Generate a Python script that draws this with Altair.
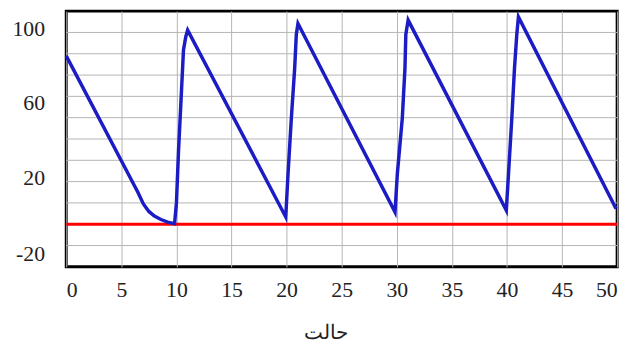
import altair as alt
import pandas as pd

# Blue series (state vs value)
xs = [0, 6.5, 7.0, 7.5, 8.0, 8.6, 9.2, 9.83,
      10.0, 10.19, 10.42, 10.64, 10.85, 11.02,
      19.92, 20.13, 20.43, 20.73, 20.88, 21.03,
      29.84, 30.05, 30.5, 30.74, 30.82, 31.03,
      39.94, 40.14, 40.44, 40.68, 40.89, 41.04,
      49.9]
ys = [79, 15, 9.5, 6.0, 3.8, 2.2, 1.0, 0.3,
      10, 34.4, 58.5, 81.8, 88, 91.1,
      3.4, 23.7, 49.8, 73, 89, 94.2,
      5.7, 23.7, 49.8, 73, 89, 95.8,
      6.5, 23.7, 49.8, 73, 89, 97.3,
      7.3]

red_level = [0]
y_grid = [-10, 0, 10, 20, 30, 40, 50, 60, 70, 80, 90]
x_ticks = [0, 5, 10, 15, 20, 25, 30, 35, 40, 45, 50]
y_tick_pos = [92, 57, 22, -14]
y_tick_labels = ["100", "60", "20", "-20"]

df = pd.DataFrame({"x": xs, "y": ys})
grid_df = pd.DataFrame({"g": y_grid})
red_df = pd.DataFrame({"v": red_level})

label_expr = "''"
for p, lab in zip(reversed(y_tick_pos), reversed(y_tick_labels)):
    label_expr = f"abs(datum.value - ({p})) < 0.5 ? '{lab}' : ({label_expr})"

FONT = "Liberation Serif"

xscale = alt.Scale(domain=[0, 50], nice=False, zero=False)
yscale = alt.Scale(domain=[-20, 100], nice=False, zero=False)

xaxis = alt.Axis(values=x_ticks, grid=True, gridColor="#b4b4b4", gridWidth=1,
                 ticks=False, domain=False, labelFont=FONT,
                 labelFontSize=22, labelColor="#222", labelPadding=13,
                 title="حالت", titleFont=FONT, titleFontSize=20,
                 titleFontWeight="normal", titleColor="#222",
                 titleX=263, titleY=67, titleBaseline="middle", titleAlign="center")
yaxis = alt.Axis(values=y_tick_pos, labelExpr=label_expr, grid=False, ticks=False,
                 domain=False, labelFont=FONT, labelFontSize=22,
                 labelColor="#222", labelPadding=22, title=None)

grid = alt.Chart(grid_df).mark_rule(color="#b4b4b4", strokeWidth=1).encode(
    y=alt.Y("g:Q", scale=yscale, axis=yaxis)
)
red = alt.Chart(red_df).mark_rule(color="#ff0000", strokeWidth=3).encode(
    y=alt.Y("v:Q", scale=yscale)
)
line = alt.Chart(df).mark_line(color="#1c1cc4", strokeWidth=3.5).encode(
    x=alt.X("x:Q", scale=xscale, axis=xaxis),
    y=alt.Y("y:Q", scale=yscale),
    order=alt.Order("x:Q")
)

chart = alt.layer(grid, red, line).properties(
    width=558, height=259,
    autosize=alt.AutoSizeParams(type="none"),
    padding={"left": 59, "top": 1, "right": 12, "bottom": 78},
    background="white"
).configure_view(stroke="#000000", strokeWidth=3)

chart.save("out.html", embed_options={"renderer": "svg", "actions": False})
